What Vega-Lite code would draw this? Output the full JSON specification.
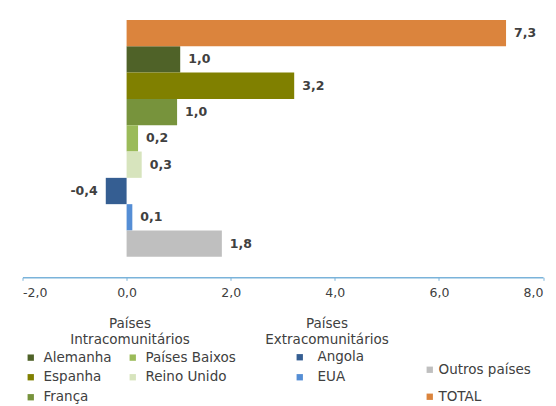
{
  "$schema": "https://vega.github.io/schema/vega-lite/v6.json",
  "autosize": {"type": "none"},
  "width": 520.5,
  "height": 257.3,
  "padding": {"left": 22.5, "top": 20, "right": 13, "bottom": 128.7},
  "background": "white",
  "config": {
    "view": {"stroke": null},
    "locale": {"number": {"decimal": ",", "thousands": ".", "grouping": [3], "currency": ["", " €"], "minus": "-"}},
    "legend": {
      "orient": "none",
      "symbolType": "square",
      "symbolSize": 40,
      "symbolStrokeWidth": 0,
      "labelFont": "DejaVu Sans",
      "labelFontSize": 13.5,
      "labelColor": "#404040",
      "titleFont": "DejaVu Sans",
      "titleFontSize": 13.5,
      "titleFontWeight": "normal",
      "titleColor": "#404040",
      "titleLineHeight": 16,
      "titleAnchor": "middle",
      "titleAlign": "center",
      "titlePadding": 4,
      "labelLimit": 300
    }
  },
  "data": {
    "values": [
      {"pais": "TOTAL", "grupo": "Total", "valor": 7.29},
      {"pais": "Alemanha", "grupo": "Intra", "valor": 1.03},
      {"pais": "Espanha", "grupo": "Intra", "valor": 3.22},
      {"pais": "França", "grupo": "Intra", "valor": 0.97},
      {"pais": "Países Baixos", "grupo": "Intra", "valor": 0.22},
      {"pais": "Reino Unido", "grupo": "Intra", "valor": 0.29},
      {"pais": "Angola", "grupo": "Extra", "valor": -0.4},
      {"pais": "EUA", "grupo": "Extra", "valor": 0.11},
      {"pais": "Outros países", "grupo": "Total", "valor": 1.83}
    ]
  },
  "encoding": {
    "y": {
      "field": "pais",
      "type": "nominal",
      "sort": ["TOTAL", "Alemanha", "Espanha", "França", "Países Baixos", "Reino Unido", "Angola", "EUA", "Outros países"],
      "scale": {
        "domain": ["TOTAL", "Alemanha", "Espanha", "França", "Países Baixos", "Reino Unido", "Angola", "EUA", "Outros países"],
        "paddingInner": 0,
        "paddingOuter": 0.39,
        "align": 0
      },
      "axis": null
    },
    "x": {
      "field": "valor",
      "type": "quantitative",
      "scale": {"domain": [-2, 8], "nice": false, "zero": false},
      "axis": {
        "title": null,
        "values": [-2, 0, 2, 4, 6, 8],
        "format": ".1f",
        "grid": false,
        "domainColor": "#7ab3da",
        "domainWidth": 1.5,
        "tickColor": "#7ab3da",
        "tickSize": 3,
        "labelFont": "DejaVu Sans",
        "labelFontSize": 12.5,
        "labelColor": "#404040",
        "labelPadding": 6
      }
    }
  },
  "layer": [
    {
      "transform": [{"filter": "datum.grupo === 'Intra'"}],
      "mark": {"type": "bar"},
      "encoding": {
        "color": {
          "field": "pais",
          "type": "nominal",
          "scale": {
            "domain": ["Alemanha", "Países Baixos", "Espanha", "Reino Unido", "França"],
            "range": ["#4F6228", "#9BBB59", "#808000", "#D7E4BD", "#77933C"]
          },
          "legend": {
            "title": ["Países", "Intracomunitários"],
            "columns": 2,
            "direction": "horizontal",
            "legendX": 1.5,
            "legendY": 297,
            "labelOffset": 6,
            "rowPadding": 5,
            "columnPadding": 14
          }
        }
      }
    },
    {
      "transform": [{"filter": "datum.grupo === 'Extra'"}],
      "mark": {"type": "bar"},
      "encoding": {
        "color": {
          "field": "pais",
          "type": "nominal",
          "scale": {"domain": ["Angola", "EUA"], "range": ["#355E92", "#558ED5"]},
          "legend": {
            "title": ["Países", "Extracomunitários"],
            "direction": "vertical",
            "legendX": 242.5,
            "legendY": 297,
            "symbolOffset": 3,
            "labelOffset": 11,
            "rowPadding": 5
          }
        }
      }
    },
    {
      "transform": [{"filter": "datum.grupo === 'Total'"}],
      "mark": {"type": "bar"},
      "encoding": {
        "color": {
          "field": "pais",
          "type": "nominal",
          "scale": {"domain": ["Outros países", "TOTAL"], "range": ["#BFBFBF", "#DB843D"]},
          "legend": {
            "title": null,
            "direction": "vertical",
            "legendX": 400.5,
            "legendY": 343,
            "labelOffset": 2,
            "rowPadding": 12
          }
        }
      }
    },
    {
      "transform": [{"filter": "datum.valor >= 0"}],
      "mark": {"type": "text", "align": "left", "baseline": "middle", "dx": 8, "font": "DejaVu Sans", "fontSize": 12.5, "fontWeight": "bold", "color": "#404040"},
      "encoding": {"text": {"field": "valor", "type": "quantitative", "format": ".1f"}}
    },
    {
      "transform": [{"filter": "datum.valor < 0"}],
      "mark": {"type": "text", "align": "right", "baseline": "middle", "dx": -8, "font": "DejaVu Sans", "fontSize": 12.5, "fontWeight": "bold", "color": "#404040"},
      "encoding": {"text": {"field": "valor", "type": "quantitative", "format": ".1f"}}
    }
  ],
  "resolve": {"scale": {"color": "independent"}, "legend": {"color": "independent"}}
}
